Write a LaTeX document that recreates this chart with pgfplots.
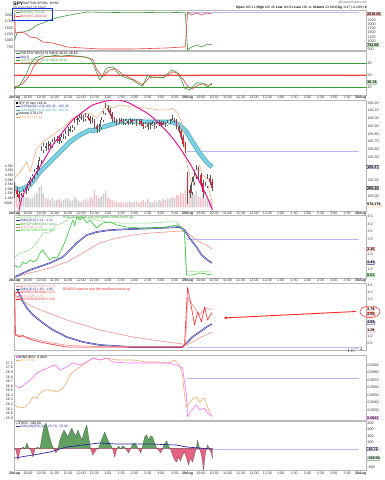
\documentclass[border=0pt]{standalone}
\usepackage{fontspec}
\setmainfont{Liberation Sans}
\newfontfamily\dejavu{DejaVu Sans}
\usepackage{pgfplots}
\usepackage{pgfplotstable}
\pgfplotsset{compat=1.18}
\usetikzlibrary{arrows.meta}
\newcommand\tf{\fontsize{3.6}{4.2}\selectfont}
\newcommand\tfs{\fontsize{3.3}{3.8}\selectfont}
\definecolor{scgreen}{HTML}{3A9A3A}
\definecolor{scred}{HTML}{E8413C}
\definecolor{navy}{HTML}{2A2A96}
\definecolor{lgreen}{HTML}{90DC90}
\definecolor{bgreen}{HTML}{2ECC2E}
\definecolor{lred}{HTML}{F29090}
\definecolor{pred}{HTML}{FF8C8C}
\definecolor{bred}{HTML}{FF2626}
\definecolor{cyanband}{HTML}{7DD0E2}
\definecolor{cyanedge}{HTML}{4AA2B8}
\definecolor{sorange}{HTML}{F4A868}
\definecolor{vmag}{HTML}{FF70FF}
\definecolor{dotblue}{HTML}{9898EE}
\definecolor{refline}{HTML}{B8B8F4}
\definecolor{tgreen}{HTML}{62A062}
\definecolor{tred}{HTML}{E26482}
\definecolor{volgray}{HTML}{CFCFCF}
\definecolor{volpink}{HTML}{F2C2C8}
\definecolor{candred}{HTML}{D8283C}
\definecolor{hlblue}{HTML}{1030E0}

\pgfplotsset{
 panel/.style={scale only axis, width=352.5pt, anchor=north west,
   xmin=-0.05, xmax=26.45, xtick={0,...,26}, xticklabels={},
   axis line style={draw=black!28, line width=0.4pt},
   major tick length=0pt,
   tick label style={font=\tf, text=black!80},
   yticklabel pos=right,
   yticklabel style={inner sep=1pt},
   xticklabel style={inner sep=0.8pt},
   /pgf/number format/assume math mode=true,
   every axis plot/.append style={line join=round}},
 over/.style={scale only axis, width=352.5pt, anchor=north west,
   xmin=-0.05, xmax=26.45, xtick=\empty, axis line style={draw=none},
   major tick length=0pt, tick label style={font=\tf, text=black!80},
   yticklabel style={inner sep=1pt},
   /pgf/number format/assume math mode=true},
 xl/.style={xticklabels={\textbf{28Aug},10:00,10:30,11:00,11:30,12:00,12:30,1:00,1:30,2:00,2:30,3:00,3:30,\textbf{29Aug},10:00,10:30,11:00,11:30,12:00,12:30,1:00,1:30,2:00,2:30,3:00,3:30,\textbf{30Aug}}},
 refl/.style={color=refline, solid, line width=0.45pt},
}
\newcommand\valbox[4]{\node[anchor=west, draw=#1, fill=#1!12, rounded corners=0.8pt, inner xsep=0.6pt, inner ysep=0.5pt, line width=0.4pt, font=\tf\bfseries, text=black] at (#3pt,-#4pt) {#2};}
\newcommand\lgl[3]{\node[anchor=west, font=\tfs, inner sep=0pt] at (15.5pt,-#1pt) {\textcolor{#2}{\rule[0.9pt]{4pt}{0.6pt}}\hspace{0.8pt}\textcolor{#2}{#3}};}

\pgfplotstableread{
i o h l c v
0 165.12 165.18 164.98 165.08 2.6
1 165.08 165.12 164.99 165.03 1.8
2 165.03 165.06 164.92 164.97 1.5
3 164.97 165.04 164.94 165.01 1.2
4 165.01 165.09 164.99 165.05 1.3
5 165.05 165.13 165.02 165.10 1.0
6 165.10 165.20 165.07 165.17 1.1
7 165.17 165.25 165.13 165.21 0.9
8 165.21 165.29 165.18 165.26 1.0
9 165.26 165.35 165.22 165.31 1.4
10 165.31 165.40 165.27 165.36 1.6
11 165.36 165.50 165.33 165.46 2.2
12 165.46 165.64 165.42 165.59 2.4
13 165.59 165.69 165.55 165.65 1.5
14 165.65 165.68 165.58 165.62 1.0
15 165.62 165.71 165.59 165.67 0.9
16 165.67 165.70 165.61 165.65 0.8
17 165.65 165.74 165.62 165.70 1.0
18 165.70 165.76 165.67 165.72 0.7
19 165.72 165.78 165.69 165.74 0.8
20 165.74 165.77 165.67 165.71 0.9
21 165.71 165.80 165.68 165.76 0.7
22 165.76 165.80 165.73 165.77 0.8
23 165.77 165.85 165.74 165.81 1.0
24 165.81 165.89 165.78 165.85 0.9
25 165.85 165.90 165.82 165.86 0.7
26 165.86 165.92 165.83 165.88 0.8
27 165.88 165.99 165.85 165.95 1.2
28 165.95 166.03 165.92 165.99 0.9
29 165.99 166.05 165.96 166.01 0.7
30 166.01 166.06 165.98 166.02 0.6
31 166.02 166.05 165.96 165.99 0.8
32 165.99 166.07 165.97 166.03 0.9
33 166.03 166.06 165.98 166.01 0.7
34 166.01 166.03 165.93 165.97 1.1
35 165.97 166.02 165.94 165.98 1.0
36 165.98 166.00 165.86 165.90 1.9
37 165.90 165.93 165.82 165.86 1.3
38 165.86 165.93 165.83 165.89 1.0
39 165.89 166.02 165.87 165.98 1.2
40 165.98 166.10 165.95 166.06 1.5
41 166.06 166.20 166.04 166.14 1.8
42 166.14 166.17 166.08 166.11 1.1
43 166.11 166.13 166.03 166.06 0.9
44 166.06 166.08 165.96 165.99 0.8
45 165.99 166.02 165.94 165.97 0.7
46 165.97 166.00 165.92 165.95 0.6
47 165.95 166.01 165.93 165.98 0.5
48 165.98 166.01 165.94 165.97 0.6
49 165.97 165.99 165.91 165.94 0.5
50 165.94 166.00 165.92 165.97 0.6
51 165.97 165.99 165.92 165.95 0.5
52 165.95 166.01 165.93 165.98 0.7
53 165.98 166.00 165.92 165.95 0.5
54 165.95 166.00 165.93 165.97 0.6
55 165.97 165.99 165.90 165.94 0.7
56 165.94 166.00 165.92 165.97 0.5
57 165.97 165.99 165.90 165.93 0.6
58 165.93 165.96 165.86 165.90 0.8
59 165.90 165.96 165.88 165.93 0.6
60 165.93 165.95 165.85 165.89 0.9
61 165.89 165.95 165.87 165.92 0.6
62 165.92 165.97 165.90 165.94 0.5
63 165.94 165.96 165.87 165.90 0.7
64 165.90 165.96 165.88 165.93 0.6
65 165.93 165.98 165.91 165.95 0.8
66 165.95 165.97 165.90 165.93 0.7
67 165.93 165.97 165.91 165.94 0.9
68 165.94 165.96 165.89 165.92 0.8
69 165.92 165.98 165.90 165.95 1.0
70 165.95 166.00 165.93 165.97 0.9
71 165.97 166.04 165.95 165.99 1.1
72 165.99 166.01 165.94 165.97 1.0
73 165.97 165.99 165.86 165.89 1.4
74 165.89 165.92 165.81 165.84 1.3
75 165.84 165.86 165.72 165.76 1.6
76 165.76 165.79 165.63 165.67 1.5
77 165.67 165.70 165.55 165.58 1.9
78 165.28 165.31 164.90 165.08 3.3
79 165.08 165.14 164.98 165.04 2.0
80 165.04 165.24 165.01 165.18 1.7
81 165.18 165.33 165.14 165.26 1.4
82 165.26 165.40 165.22 165.34 1.8
83 165.34 165.38 165.20 165.27 1.2
84 165.27 165.30 165.12 165.17 1.1
85 165.17 165.20 164.98 165.05 1.5
86 165.05 165.18 165.02 165.13 1.0
87 165.13 165.28 165.10 165.23 0.9
88 165.23 165.27 165.14 165.18 0.8
89 165.18 165.22 165.06 165.11 0.57
}\candles

\begin{document}
\begin{tikzpicture}
\useasboundingbox[fill=white] (0,0) rectangle (384pt,-480pt);

% ---------------- header
\node[anchor=west, inner sep=0pt, font=\fontsize{5}{5}\selectfont\bfseries] at (13pt,-3.4pt) {SPY};
\node[anchor=west, inner sep=0pt, font=\tfs] at (23pt,-3.6pt) {S\&P 500 SPDRs\ \ NYSE};
\node[anchor=west, inner sep=0pt, font=\tfs, text=black!70] at (13pt,-7.6pt) {29-Aug-2013 10:32am};
\node[anchor=east, inner sep=0pt, font=\tfs, text=black!60] at (367pt,-3pt) {@StockCharts.com};
\node[anchor=east, inner sep=0pt, font=\tfs] at (367pt,-7.6pt) {\textbf{Open} 165.12 \textbf{High} 165.46 \textbf{Low} 164.91 \textbf{Last} 165.11 \textbf{Volume} 23.0M \textbf{Chg} -0.47 (-0.28\%) {\dejavu\fontsize{2.6}{3}\selectfont ▼}};

% ---------------- panel 1
\begin{axis}[over, at={(14pt,-10pt)}, height=40.5pt, ymin=419, ymax=2881,
  yticklabel pos=left, ytick={632,1021,1410,1799,2188,2577}, yticklabels={750,1000,1250,1500,1750,2000}]
\addplot[draw=none] coordinates {(0,1000)};
\end{axis}
\begin{axis}[panel, at={(14pt,-10pt)}, height=40.5pt, ymin=419, ymax=2881,
  ytick={500,1000,1250,1500,1750,2000,2250}, yticklabels={500,1000,1250,1500,1750,2000,2250}]
\addplot[refl] coordinates {(12.95,2760) (25.9,2760)};
\addplot[scgreen, line width=0.6pt] coordinates {(0,1057) (0.17,1483) (0.62,1544) (1.15,1665) (1.67,1969) (2.12,2091) (2.65,2273) (3.40,2456) (4.15,2577) (5.42,2760) (6.40,2741) (8.87,2717) (11.42,2741) (12.83,2717) (13.0,449) (13.30,632) (13.67,753) (14.05,632) (14.50,814) (14.83,752)};
\addplot[scred, line width=0.6pt] coordinates {(0,2638) (0.05,1483) (0.40,1544) (0.77,1483) (1.15,1240) (1.67,1179) (2.12,936) (2.87,875) (3.92,632) (5.12,571) (6.40,510) (8.87,510) (11.42,571) (12.62,632) (12.83,632) (13.0,2760) (13.30,2577) (13.67,2699) (14.05,2577) (14.42,2699) (14.83,2638)};
\end{axis}
\lgl{12.5}{scgreen}{\$NYADV 752.00}
\lgl{16.5}{scred}{\$NYDEC 2638.00}
\draw[hlblue, line width=0.9pt] (12pt,-8.6pt) rectangle (52.5pt,-20.3pt);
\valbox{scred}{2638.00}{366.5}{14}
\valbox{scgreen}{752.00}{366.5}{45}

% ---------------- panel 2
\begin{axis}[panel, xl, at={(14pt,-51.5pt)}, height=43.5pt, ymin=0, ymax=108.75,
  ytick={20,50,80}, yticklabels={20,50,80}]
\addplot[scgreen, line width=0.5pt] coordinates {(-1,80) (27,80)};
\addplot[scgreen, line width=0.5pt] coordinates {(-1,20) (27,20)};
\addplot[scred!30, line width=2.2pt] coordinates {(-1,50) (27,50)};
\addplot[scred, line width=0.5pt] coordinates {(-1,50) (27,50)};
\addplot[scred, line width=0.6pt] coordinates {(0,20) (0.6,28) (1.15,50) (1.4,70) (1.8,88) (2.3,96) (3,97) (4,97) (5.2,96) (5.9,88) (6.15,65) (6.6,45) (7.1,62) (7.6,66) (8.1,52) (8.6,44) (9.1,36) (9.6,26) (9.9,35) (10.2,46) (10.6,44) (11.2,44) (11.9,58) (12.3,54) (12.7,38) (13.0,22) (13.35,15) (13.8,25) (14.25,28) (14.6,24) (14.83,27)};
\addplot[scgreen, line width=0.6pt] coordinates {(0,15) (0.40,25) (0.92,55) (1.15,75) (1.5,92) (2.0,98) (2.5,96) (3.0,99) (3.5,97) (4.0,99) (4.5,98) (5.0,96) (5.65,92) (5.87,80) (6.40,37.5) (6.92,67.5) (7.37,70) (7.90,50) (8.42,42.5) (8.87,37.5) (9.40,25) (9.62,22.5) (10.0,50) (10.30,42.5) (10.67,45) (11.12,42.5) (11.80,62.5) (12.17,57.5) (12.55,37.5) (12.77,17.5) (13.15,12.5) (13.67,30) (14.12,30) (14.50,20) (14.83,30)};
\end{axis}
\lgl{53.8}{scgreen}{\textcolor{black}{Full STO \%K(14,3) \%D(3) 30.13, 26.65}}
\lgl{57.2}{navy}{MA(3)}
\lgl{60.6}{scgreen}{Full STO \%K(14,3) \%D(3) 30.13}
\lgl{64.0}{scred}{Pct(MA) 50.00}
\valbox{scgreen}{30.13}{366.5}{82.3}

% ---------------- panel 3 (volume behind)
\begin{axis}[over, at={(14pt,-100.5pt)}, height=110.5pt, ymin=-0.39, ymax=11.62,
  yticklabel pos=left, ytick={0.5,1.0,1.5,2.0,2.5,3.0,3.5,4.0,4.5},
  yticklabels={500K,1.0M,1.5M,2.0M,2.5M,3.0M,3.5M,4.0M,4.5M}]
\addplot[ybar, bar width=1.5pt, bar shift=0pt, fill=volgray, draw=none,
  restrict expr to domain={\thisrow{c}-\thisrow{o}}{0:10}] table[x expr=\thisrow{i}/6, y=v]{\candles};
\addplot[ybar, bar width=1.5pt, bar shift=0pt, fill=volpink, draw=none,
  restrict expr to domain={\thisrow{c}-\thisrow{o}}{-10:-0.0001}] table[x expr=\thisrow{i}/6, y=v]{\candles};
\end{axis}
\begin{axis}[panel, xl, at={(14pt,-100.5pt)}, height=110.5pt, ymin=164.806, ymax=166.232,
  ytick={165.0,165.2,165.5,165.6,165.7,165.8,165.9,166.0,166.1,166.2},
  yticklabels={165.00,165.20,165.50,165.60,165.70,165.80,165.90,166.00,166.10,166.20}]
\addplot[refl] coordinates {(12.95,165.58) (25.9,165.58)};
\addplot[cyanedge, line width=4.6pt] coordinates {(0,165.103) (0.40,165.077) (1.15,165.142) (1.90,165.310) (2.65,165.439) (3.40,165.568) (4.15,165.697) (4.90,165.787) (5.65,165.852) (5.87,165.839) (6.40,165.877) (7.15,165.916) (7.90,165.955) (8.87,165.968) (9.92,165.955) (10.90,165.955) (11.87,165.955) (12.40,165.916) (12.92,165.826) (13.37,165.697) (13.90,165.555) (14.42,165.439) (14.83,165.374)};
\addplot[cyanband, line width=3.4pt] coordinates {(0,165.103) (0.40,165.077) (1.15,165.142) (1.90,165.310) (2.65,165.439) (3.40,165.568) (4.15,165.697) (4.90,165.787) (5.65,165.852) (5.87,165.839) (6.40,165.877) (7.15,165.916) (7.90,165.955) (8.87,165.968) (9.92,165.955) (10.90,165.955) (11.87,165.955) (12.40,165.916) (12.92,165.826) (13.37,165.697) (13.90,165.555) (14.42,165.439) (14.83,165.374)};
\addplot[sorange, line width=0.5pt] coordinates {(0,165.232) (0.40,165.310) (0.92,165.439) (1.15,165.310) (1.67,165.619) (2.12,165.697) (2.87,165.787) (3.62,165.877) (4.37,166.006) (4.90,166.045) (5.65,166.071) (6.17,166.006) (6.92,166.174) (7.37,166.135) (7.90,166.174) (8.87,166.148) (9.92,166.135) (10.90,166.110) (11.65,166.110) (11.87,166.135) (12.25,166.071) (12.55,165.955) (12.77,165.658) (12.92,165.439) (13.15,165.271) (13.37,165.103) (13.67,165.310) (13.90,165.400) (14.12,165.271) (14.42,165.232) (14.65,165.052) (14.87,164.923)};
\addplot[draw=none, mark=none, error bars/.cd, y dir=both, y explicit, error mark=none,
  error bar style={draw=black!65, line width=0.35pt}]
  table[x expr=\thisrow{i}/6, y expr=(\thisrow{h}+\thisrow{l})/2, y error expr=(\thisrow{h}-\thisrow{l})/2]{\candles};
\addplot[draw=none, mark=none, restrict expr to domain={\thisrow{c}-\thisrow{o}}{-10:-0.0001},
  error bars/.cd, y dir=both, y explicit, error mark=none, error bar style={draw=candred, line width=1.5pt}]
  table[x expr=\thisrow{i}/6, y expr=(\thisrow{o}+\thisrow{c})/2, y error expr=abs(\thisrow{o}-\thisrow{c})/2]{\candles};
\addplot[draw=none, mark=none, restrict expr to domain={\thisrow{c}-\thisrow{o}}{0.0001:10},
  error bars/.cd, y dir=both, y explicit, error mark=none, error bar style={draw=black!65, line width=1.5pt}]
  table[x expr=\thisrow{i}/6, y expr=(\thisrow{o}+\thisrow{c})/2, y error expr=abs(\thisrow{o}-\thisrow{c})/2]{\candles};
\addplot[draw=none, mark=none, restrict expr to domain={\thisrow{c}-\thisrow{o}}{0.0001:10},
  error bars/.cd, y dir=both, y explicit, error mark=none, error bar style={draw=white, line width=0.9pt}]
  table[x expr=\thisrow{i}/6, y expr=(\thisrow{o}+\thisrow{c})/2, y error expr={max(abs(\thisrow{o}-\thisrow{c})/2-0.005,0)}]{\candles};
\addplot[magenta, line width=0.9pt, smooth] coordinates {(0.32,164.806) (0.62,165.013) (1.37,165.232) (2.12,165.439) (2.87,165.658) (3.62,165.826) (4.37,165.981) (5.12,166.084) (5.87,166.174) (6.92,166.226) (7.67,166.239) (8.42,166.213) (9.17,166.148) (10.15,166.045) (11.12,165.890) (11.87,165.748) (12.62,165.568) (13.37,165.361) (13.90,165.181) (14.50,164.974) (14.87,164.819)};
\end{axis}
\node[anchor=west, font=\tfs, inner sep=0pt] at (15.5pt,-103.5pt) {\rule{2pt}{2pt}\hspace{0.8pt}SPY (5 min) 165.11};
\lgl{107}{navy}{ZLEMA(50,14.0) 165.35 - 165.25}
\lgl{110.5}{cyanedge}{ZLEMA(60,15.0) 165.35 - 165.31}
\node[anchor=west, font=\tfs, inner sep=0pt] at (15.5pt,-114pt) {\textcolor{black!50}{\rule{2pt}{2pt}}\hspace{0.8pt}Volume 570,179};
\lgl{117.5}{sorange}{MA(20) 165.61}
\valbox{navy}{165.37}{366.5}{167}
\valbox{black}{165.11}{366.5}{188}
\valbox{sorange}{570,179}{366.5}{205}

% ---------------- panel 4
\begin{axis}[panel, xl, at={(14pt,-215.5pt)}, height=62.5pt, ymin=0.413, ymax=4.58,
  ytick={1.0,2.0,3.0,3.5,4.0,4.5}, yticklabels={1.0,2.0,3.0,3.5,4.0,4.5}]
\addplot[refl] coordinates {(12.95,2.99) (25.9,2.99)};
\addplot[lgreen, line width=0.5pt] coordinates {(0,1.81) (0.40,2.08) (1.15,2.28) (1.67,2.75) (2.12,3.41) (2.65,3.48) (3.17,3.95) (3.62,4.08) (4.15,4.41) (4.67,4.48) (5.42,4.41) (6.17,4.28) (6.92,4.15) (7.90,4.08) (8.87,4.08) (10.15,4.08) (11.42,4.15) (12.17,4.15) (12.55,3.81) (12.77,3.41) (12.92,0.81) (13.90,0.88) (14.83,0.81)};
\addplot[lred, line width=0.6pt] coordinates {(0,0.48) (1.15,0.75) (2.65,1.08) (3.92,1.48) (5.12,2.08) (6.40,2.75) (7.67,3.08) (8.87,3.28) (10.15,3.41) (11.42,3.48) (12.55,3.55) (12.92,3.48) (13.37,3.15) (13.90,2.81) (14.42,2.61) (14.83,2.35)};
\addplot[navy, line width=0.45pt, double=dotblue!70, double distance=0.55pt] coordinates {(0,0.48) (1.15,0.95) (2.65,1.41) (3.62,1.81) (4.15,2.28) (4.67,2.75) (5.42,3.28) (6.17,3.48) (7.15,3.61) (8.87,3.68) (10.90,3.75) (12.40,3.81) (12.77,3.61) (13.15,3.08) (13.67,2.48) (14.05,1.95) (14.50,1.61) (14.83,1.41)};
\addplot[bgreen, line width=0.6pt] coordinates {(0,1.28) (0.17,1.15) (0.40,1.15) (0.62,1.48) (0.85,1.35) (1.15,1.61) (1.40,1.50) (1.67,1.61) (1.90,2.08) (2.12,2.28) (2.40,1.90) (2.65,1.61) (2.90,1.80) (3.17,1.75) (3.40,2.10) (3.62,2.48) (3.92,3.15) (4.15,3.75) (4.37,4.28) (4.52,3.90) (4.67,4.48) (4.90,4.28) (5.12,4.48) (5.42,4.08) (5.65,4.28) (6.17,3.75) (6.62,4.08) (7.15,4.15) (7.67,3.95) (8.42,3.81) (9.40,3.75) (10.37,3.75) (11.42,3.81) (12.17,3.95) (12.55,3.75) (12.77,3.41) (12.92,0.61) (13.37,0.61) (13.90,0.75) (14.42,0.68) (14.83,0.61)};
\end{axis}
\lgl{217.2}{lgreen}{\$NYADV:\$NYDEC 0.81}
\lgl{220.6}{navy}{EMA(20,5) 1.41 - 1.41}
\lgl{224.0}{scgreen}{\$NYUPV:\$NYDNV 0.61}
\lgl{227.4}{lred}{EMA(100) 2.35}
\lgl{230.8}{bgreen}{\$NYUPV:\$NYDNV 0.61}
\node[anchor=west, font=\tf, text=bgreen!80!black, inner sep=0pt] at (63pt,-217.3pt) {BULLS want to see the green lines move up};
\valbox{scred}{2.35}{366.5}{249}
\valbox{navy}{1.41}{366.5}{262.7}
\valbox{bgreen}{0.61}{366.5}{275}

% ---------------- panel 5
\begin{axis}[panel, at={(14pt,-283.5pt)}, height=66.5pt, ymin=0.048, ymax=4.60,
  ytick={0.5,1.0,3.5,4.0,4.5}, yticklabels={0.5,1.0,3.5,4.0,4.5}]
\addplot[refl] coordinates {(12.95,0.27) (25.9,0.27)};
\addplot[lred, line width=0.6pt] coordinates {(0,3.9) (0.40,3.5) (1.37,3.0) (3.92,2.10) (6.40,1.42) (8.87,0.94) (11.42,0.60) (12.62,0.46) (12.92,0.39) (13.37,0.60) (13.90,0.87) (14.83,1.28)};
\addplot[navy, line width=0.45pt, double=dotblue!70, double distance=0.55pt] coordinates {(0.2,4.2) (0.6,3.4) (0.92,2.92) (1.37,2.45) (2.12,1.90) (2.87,1.42) (3.92,0.94) (5.12,0.60) (6.40,0.39) (8.87,0.25) (12.62,0.25) (13.0,0.60) (13.37,0.94) (13.90,1.28) (14.42,1.62) (14.83,1.83)};
\addplot[pred, line width=0.6pt] coordinates {(0,3.6) (0.05,1.15) (0.5,1.00) (1.0,0.92) (1.5,0.80) (2.5,0.58) (4.0,0.36) (6.0,0.30) (12.7,0.30) (12.85,0.45) (13.0,3.61) (13.37,3.13) (13.90,2.45) (14.42,2.92) (14.83,2.79)};
\addplot[bred, line width=0.6pt] coordinates {(0,4.2) (0.05,1.07) (0.25,1.0) (0.40,0.94) (0.6,1.05) (0.92,0.87) (1.37,0.73) (1.90,0.60) (2.65,0.46) (3.92,0.25) (6.40,0.25) (8.87,0.25) (11.42,0.25) (12.62,0.25) (12.77,0.39) (13.0,4.36) (13.30,2.92) (13.52,1.76) (13.75,2.65) (14.05,1.97) (14.27,2.99) (14.50,2.10) (14.80,2.58) (14.83,2.55)};
\end{axis}
\lgl{286.0}{pred}{\$NYDNV:\$NYUPV 2.79}
\lgl{289.4}{navy}{EMA(20,5) 1.83 - 1.85}
\lgl{292.8}{bred}{\$NYDEC:\$NYADV 2.55}
\lgl{296.2}{lred}{EMA(100) 1.28}
\lgl{299.6}{bred}{\$NYDNV:\$NYUPV 2.55}
\node[anchor=west, font=\tf, text=bred, inner sep=0pt] at (63pt,-289.3pt) {BEARS want to see the red lines move up};
\valbox{pred}{2.79}{366.5}{309.3}
\valbox{bred}{2.55}{366.5}{314.2}
\valbox{navy}{1.83}{366.5}{322.7}
\valbox{lred}{1.28}{366.5}{330.7}
\draw[bred, line width=0.5pt] (370pt,-311.8pt) ellipse (10pt and 5.8pt);
\draw[bred, line width=0.9pt, -{Latex[length=4pt,width=3pt]}] (356pt,-311.5pt) -- (223pt,-318pt);

% ---------------- panel 6
\begin{axis}[over, at={(14pt,-355pt)}, height=65.5pt, ymin=25.845, ymax=27.275,
  yticklabel pos=left, ytick={25.9,26.0,26.1,26.2,26.3,26.4,26.5,26.6,26.7,26.8,26.9,27.0,27.1},
  yticklabels={25.9,26.0,26.1,26.2,26.3,26.4,26.5,26.6,26.7,26.8,26.9,27.0,27.1}]
\addplot[sorange, line width=0.6pt] coordinates {(0,26.183) (0.40,26.117) (0.77,26.139) (1.15,26.248) (1.37,26.358) (1.67,26.336) (1.90,26.445) (2.27,26.510) (2.65,26.510) (3.17,26.467) (3.62,26.554) (3.92,26.685) (4.15,26.838) (4.37,26.903) (4.90,27.013) (5.42,27.122) (5.87,27.209) (6.40,27.166) (6.92,27.209) (7.67,27.166) (8.87,27.166) (9.92,27.122) (10.90,27.122) (11.65,27.100) (12.02,27.166) (12.40,27.056) (12.62,26.838) (12.77,26.401) (12.92,26.139) (13.30,26.292) (13.67,26.358) (13.90,26.248) (14.27,26.336) (14.50,26.139) (14.83,25.921)};
\end{axis}
\begin{axis}[panel, at={(14pt,-355pt)}, height=65.5pt, ymin=0.0816, ymax=0.09033,
  ytick={0.083,0.084,0.085,0.086,0.087,0.088,0.089},
  yticklabels={0.0830,0.0840,0.0850,0.0860,0.0870,0.0880,0.0890}]
\addplot[refl] coordinates {(12.95,0.08723) (25.9,0.08723)};
\addplot[vmag, line width=0.6pt] coordinates {(0,0.08633) (0.40,0.08593) (1.15,0.08700) (1.67,0.08793) (2.12,0.08833) (2.65,0.08873) (3.02,0.08900) (3.40,0.08833) (3.92,0.08873) (4.37,0.08927) (4.90,0.08900) (5.42,0.08940) (5.87,0.08993) (6.40,0.08967) (6.92,0.08993) (7.37,0.08940) (8.42,0.08927) (9.40,0.08927) (10.37,0.08927) (11.42,0.08927) (12.17,0.08900) (12.62,0.08860) (12.77,0.08673) (12.92,0.08500) (13.0,0.08207) (13.30,0.08300) (13.67,0.08367) (13.90,0.08300) (14.27,0.08327) (14.50,0.08260) (14.83,0.08220)};
\end{axis}
\node[anchor=west, font=\tfs, inner sep=0pt] at (15.5pt,-357pt) {\textcolor{vmag}{\rule{2pt}{2pt}}\hspace{0.8pt}\$ONE:\$VIX\ \ 0.0822};
\lgl{360.5}{sorange}{XIV 25.92}
\valbox{vmag}{0.0822}{366.5}{418}

% ---------------- panel 7
\begin{axis}[panel, xl, at={(14pt,-421pt)}, height=49.5pt, ymin=-703, ymax=872,
  ytick={-600,200,400,600,800}, yticklabels={-600,200,400,600,800}]
\addplot[refl] coordinates {(12.95,-26.71) (25.9,-26.71)};
\begin{scope}
\clip (axis cs:-1,0) rectangle (axis cs:30,2000);
\addplot[fill=tgreen, draw=tgreen!60!black, line width=0.25pt] coordinates {(0,-19) (0.10,-51) (0.25,-369) (0.40,-51) (0.62,45) (0.77,-19) (0.92,172) (1.07,13) (1.22,-51) (1.37,-274) (1.52,-19) (1.75,45) (1.90,-19) (2.05,363) (2.20,681) (2.35,808) (2.50,585) (2.65,331) (2.80,108) (2.95,-19) (3.10,-146) (3.25,-19) (3.40,267) (3.55,426) (3.70,585) (3.85,490) (4.00,363) (4.15,522) (4.30,649) (4.45,490) (4.60,395) (4.75,585) (4.90,426) (5.05,267) (5.27,585) (5.42,745) (5.57,331) (5.72,-19) (5.87,-210) (6.02,-115) (6.17,-19) (6.32,13) (6.47,204) (6.62,363) (6.77,522) (6.92,363) (7.07,204) (7.22,108) (7.37,-19) (7.52,-274) (7.67,-19) (7.82,76) (7.97,-19) (8.12,76) (8.27,45) (8.42,-51) (8.57,-146) (8.72,13) (8.87,140) (9.02,172) (9.17,76) (9.32,-19) (9.47,-146) (9.62,76) (9.77,363) (9.92,426) (10.07,267) (10.22,395) (10.37,363) (10.52,172) (10.67,13) (10.82,-51) (10.97,-146) (11.12,-19) (11.27,140) (11.42,236) (11.57,76) (11.72,-19) (11.87,-210) (12.02,-369) (12.17,-433) (12.32,-274) (12.47,-401) (12.62,-210) (12.77,-115) (12.92,-305) (13.07,-528) (13.22,-305) (13.37,-433) (13.52,-210) (13.67,45) (13.75,267) (13.90,-19) (14.05,-210) (14.20,-687) (14.35,-115) (14.50,108) (14.65,-19) (14.80,-178) (14.87,-320)} \closedcycle;
\end{scope}
\begin{scope}
\clip (axis cs:-1,-2000) rectangle (axis cs:30,0);
\addplot[fill=tred, draw=tred!60!black, line width=0.25pt] coordinates {(0,-19) (0.10,-51) (0.25,-369) (0.40,-51) (0.62,45) (0.77,-19) (0.92,172) (1.07,13) (1.22,-51) (1.37,-274) (1.52,-19) (1.75,45) (1.90,-19) (2.05,363) (2.20,681) (2.35,808) (2.50,585) (2.65,331) (2.80,108) (2.95,-19) (3.10,-146) (3.25,-19) (3.40,267) (3.55,426) (3.70,585) (3.85,490) (4.00,363) (4.15,522) (4.30,649) (4.45,490) (4.60,395) (4.75,585) (4.90,426) (5.05,267) (5.27,585) (5.42,745) (5.57,331) (5.72,-19) (5.87,-210) (6.02,-115) (6.17,-19) (6.32,13) (6.47,204) (6.62,363) (6.77,522) (6.92,363) (7.07,204) (7.22,108) (7.37,-19) (7.52,-274) (7.67,-19) (7.82,76) (7.97,-19) (8.12,76) (8.27,45) (8.42,-51) (8.57,-146) (8.72,13) (8.87,140) (9.02,172) (9.17,76) (9.32,-19) (9.47,-146) (9.62,76) (9.77,363) (9.92,426) (10.07,267) (10.22,395) (10.37,363) (10.52,172) (10.67,13) (10.82,-51) (10.97,-146) (11.12,-19) (11.27,140) (11.42,236) (11.57,76) (11.72,-19) (11.87,-210) (12.02,-369) (12.17,-433) (12.32,-274) (12.47,-401) (12.62,-210) (12.77,-115) (12.92,-305) (13.07,-528) (13.22,-305) (13.37,-433) (13.52,-210) (13.67,45) (13.75,267) (13.90,-19) (14.05,-210) (14.20,-687) (14.35,-115) (14.50,108) (14.65,-19) (14.80,-178) (14.87,-320)} \closedcycle;
\end{scope}
\addplot[navy, line width=0.7pt] coordinates {(0,-305) (1.37,-210) (2.65,-115) (3.92,45) (5.12,108) (6.40,172) (7.67,140) (8.87,140) (10.15,140) (11.42,120) (12.17,108) (12.92,45) (13.90,13) (14.83,-26)};
\end{axis}
\node[anchor=west, font=\tfs, inner sep=0pt] at (15.5pt,-423pt) {\textcolor{tgreen}{\dejavu\fontsize{2.6}{3}\selectfont ▲}\hspace{0.8pt}\$TICK\ \ -320.00};
\lgl{426.5}{navy}{EMA(40)(\$TICK) (-25.71) -25.90}
\valbox{navy}{-26.71}{366.5}{449.0}
\valbox{tgreen}{-320.00}{366.5}{458.6}
\end{tikzpicture}
\end{document}
